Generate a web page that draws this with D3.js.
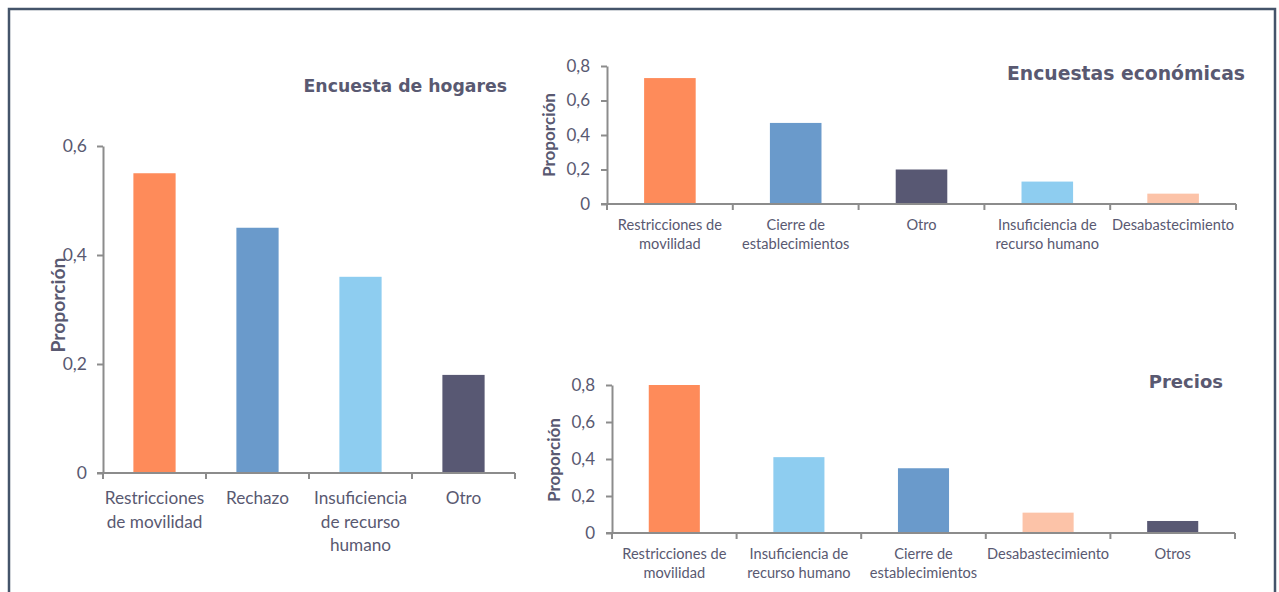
<!DOCTYPE html>
<html>
<head>
<meta charset="utf-8">
<script src="https://cdn.jsdelivr.net/npm/d3@7"></script>
<style>
  body { margin: 0; background: #fff; }
  svg { display: block; }
</style>
</head>
<body>
<svg width="1279" height="592"></svg>
<script>
// data
var hogaresCats = ["Restricciones\nde movilidad", "Rechazo", "Insuficiencia\nde recurso\nhumano", "Otro"];
var hogaresVals = [0.55, 0.45, 0.36, 0.18];
var hogaresColors = ["#fe8b5a", "#6a9acb", "#8ecdf0", "#585873"];
var hogaresTicks = [0, 0.2, 0.4, 0.6];

var economicasCats = ["Restricciones de\nmovilidad", "Cierre de\nestablecimientos", "Otro", "Insuficiencia de\nrecurso humano", "Desabastecimiento"];
var economicasVals = [0.73, 0.47, 0.2, 0.13, 0.06];
var economicasColors = ["#fe8b5a", "#6a9acb", "#585873", "#8ecdf0", "#fcc3a8"];
var economicasTicks = [0, 0.2, 0.4, 0.6, 0.8];

var preciosCats = ["Restricciones de\nmovilidad", "Insuficiencia de\nrecurso humano", "Cierre de\nestablecimientos", "Desabastecimiento", "Otros"];
var preciosVals = [0.8, 0.41, 0.35, 0.11, 0.065];
var preciosColors = ["#fe8b5a", "#8ecdf0", "#6a9acb", "#fcc3a8", "#585873"];
var preciosTicks = [0, 0.2, 0.4, 0.6, 0.8];

var svg = d3.select("svg");
var textColor = "#595971",
    axisColor = "#8c8c8c",
    fmt = function (d) { return d === 0 ? "0" : String(d).replace(".", ","); };

// frame
svg.append("path")
    .attr("d", "M9,600 V9 H1275 V600")
    .attr("fill", "none")
    .attr("stroke", "#44546a")
    .attr("stroke-width", 2.5);

function drawPanel(p) {
    var g = svg.append("g");
    var x = d3.scaleBand().domain(p.cats).range([p.x0, p.x1]).padding(0);
    var y = d3.scaleLinear().domain([0, d3.max(p.ticks)]).range([p.y0, p.y1]);
    var bw = x.step() * p.barFrac;

    // bars
    g.selectAll("rect.bar")
        .data(p.vals)
        .enter().append("rect")
        .attr("x", function (d, i) { return x(p.cats[i]) + (x.step() - bw) / 2; })
        .attr("y", function (d) { return y(d); })
        .attr("width", bw)
        .attr("height", function (d) { return y(0) - y(d); })
        .attr("fill", function (d, i) { return p.colors[i]; });

    // y axis
    var yAxis = d3.axisLeft(y).tickValues(p.ticks).tickFormat(fmt)
        .tickSize(6).tickSizeOuter(0).tickPadding(p.yPad);
    var ya = g.append("g")
        .attr("transform", "translate(" + p.x0 + ",0)")
        .call(yAxis);
    ya.selectAll("path, line").attr("stroke", axisColor).attr("stroke-width", 2);
    ya.selectAll("text")
        .attr("fill", textColor)
        .attr("font-family", "Lato, sans-serif")
        .attr("font-size", p.yFont + "px");

    // x axis line and boundary ticks
    g.append("line")
        .attr("x1", p.x0 - 6).attr("x2", p.x1)
        .attr("y1", y(0)).attr("y2", y(0))
        .attr("stroke", axisColor).attr("stroke-width", 2);
    g.selectAll("line.xt")
        .data(d3.range(p.cats.length + 1))
        .enter().append("line")
        .attr("x1", function (i) { return p.x0 + i * x.step(); })
        .attr("x2", function (i) { return p.x0 + i * x.step(); })
        .attr("y1", y(0)).attr("y2", y(0) + 6)
        .attr("stroke", axisColor).attr("stroke-width", 2);

    // category labels
    var lab = g.selectAll("text.cat")
        .data(p.cats)
        .enter().append("text")
        .attr("text-anchor", "middle")
        .attr("fill", textColor)
        .attr("font-family", "Lato, sans-serif")
        .attr("font-size", p.xFont + "px")
        .attr("y", y(0) + p.xOff);
    lab.each(function (d) {
        var t = d3.select(this);
        d.split("\n").forEach(function (line, k) {
            t.append("tspan")
                .attr("x", x(d) + x.step() / 2)
                .attr("dy", k === 0 ? 0 : p.lineH)
                .text(line);
        });
    });

    // y title
    g.append("text")
        .attr("transform", "translate(" + p.yTitleX + "," + p.yTitleY + ") rotate(-90)")
        .attr("text-anchor", "middle")
        .attr("fill", textColor)
        .attr("font-family", "Lato, sans-serif")
        .attr("font-weight", "bold")
        .attr("font-size", p.yTitleFont + "px")
        .attr("textLength", p.yTitleLen)
        .attr("lengthAdjust", "spacingAndGlyphs")
        .text("Proporción");

    // title
    g.append("text")
        .attr("x", p.titleX)
        .attr("y", p.titleY)
        .attr("text-anchor", "end")
        .attr("fill", textColor)
        .attr("font-family", "'DejaVu Sans', sans-serif")
        .attr("font-weight", "bold")
        .attr("font-size", p.titleFont + "px")
        .text(p.title);
}

drawPanel({
    cats: hogaresCats, vals: hogaresVals, colors: hogaresColors, ticks: hogaresTicks,
    x0: 103, x1: 515, y0: 473, y1: 146, barFrac: 0.41,
    yPad: 10, yFont: 17.5, xFont: 17.2, xOff: 31, lineH: 23.5,
    yTitleX: 65, yTitleY: 305, yTitleFont: 19, yTitleLen: 95,
    title: "Encuesta de hogares", titleX: 507, titleY: 92, titleFont: 17.3
});

drawPanel({
    cats: economicasCats, vals: economicasVals, colors: economicasColors, ticks: economicasTicks,
    x0: 607, x1: 1236, y0: 204, y1: 66, barFrac: 0.41,
    yPad: 11, yFont: 17, xFont: 14.6, xOff: 26, lineH: 19,
    yTitleX: 555, yTitleY: 135, yTitleFont: 17, yTitleLen: 84,
    title: "Encuestas económicas", titleX: 1245, titleY: 80, titleFont: 18.8
});

drawPanel({
    cats: preciosCats, vals: preciosVals, colors: preciosColors, ticks: preciosTicks,
    x0: 612, x1: 1235, y0: 533, y1: 385, barFrac: 0.41,
    yPad: 11, yFont: 17, xFont: 14.6, xOff: 26, lineH: 19,
    yTitleX: 560, yTitleY: 460, yTitleFont: 17, yTitleLen: 84,
    title: "Precios", titleX: 1223, titleY: 388, titleFont: 18
});
</script>
</body>
</html>
